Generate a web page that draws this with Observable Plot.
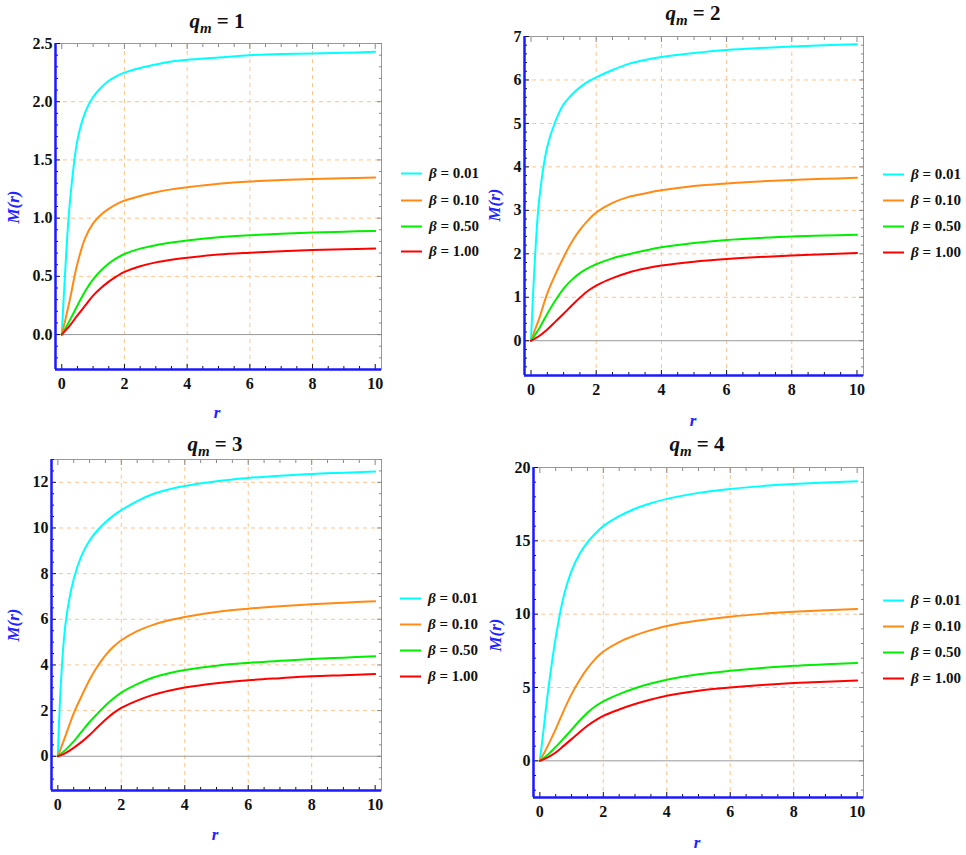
<!DOCTYPE html>
<html><head><meta charset="utf-8">
<script src="https://cdn.jsdelivr.net/npm/d3@7"></script>
<script src="https://cdn.jsdelivr.net/npm/@observablehq/plot@0.6"></script>
<style>
body{margin:0;background:#fff;}
#wrap{position:relative;width:966px;height:855px;font-family:"Liberation Serif","DejaVu Serif",serif;overflow:hidden;}
.panel{position:absolute;}
.title{position:absolute;font-weight:bold;font-size:21px;transform:translate(-50%,-50%);white-space:nowrap;color:#111;}
.title sub{font-size:15px;vertical-align:-5px;}
.ylab{position:absolute;color:#2323ff;font-weight:bold;font-style:italic;font-size:17px;transform:translate(-50%,-50%) rotate(-90deg);white-space:nowrap;}
.xlab{position:absolute;color:#2323ff;font-weight:bold;font-style:italic;font-size:17px;transform:translate(-50%,-50%);}
.legend{position:absolute;font-weight:bold;font-size:15px;color:#111;}
.legend .row{position:absolute;left:0;display:flex;align-items:center;white-space:nowrap;transform:translateY(-50%);}
.legend .sw{display:inline-block;width:21px;height:2px;margin-right:7px;}
</style>
</head><body>
<div id="wrap"></div>
<script>
// ---- data ----
const r = [0, 0.1, 0.25, 0.5, 0.75, 1, 1.25, 1.5, 1.75, 2, 2.5, 3, 3.5, 4, 5, 6, 7, 8, 9, 10];
const betaLabels = ["β = 0.01", "β = 0.10", "β = 0.50", "β = 1.00"];
const seriesColors = ["#00ffff", "#ff8a14", "#00ee00", "#ff0000"];

// q_m = 1
const q1_b001 = [0, 0.50, 1.11, 1.67, 1.91, 2.04, 2.12, 2.18, 2.22, 2.25, 2.29, 2.32, 2.345, 2.36, 2.38, 2.40, 2.41, 2.415, 2.42, 2.43];
const q1_b010 = [0, 0.11, 0.29, 0.61, 0.83, 0.955, 1.03, 1.08, 1.12, 1.15, 1.19, 1.222, 1.247, 1.265, 1.295, 1.315, 1.327, 1.336, 1.343, 1.35];
const q1_b050 = [0, 0.045, 0.12, 0.25, 0.375, 0.475, 0.55, 0.61, 0.656, 0.692, 0.738, 0.768, 0.79, 0.808, 0.835, 0.853, 0.866, 0.876, 0.884, 0.89];
const q1_b100 = [0, 0.03, 0.075, 0.165, 0.25, 0.335, 0.40, 0.455, 0.50, 0.538, 0.587, 0.62, 0.643, 0.66, 0.687, 0.703, 0.716, 0.726, 0.733, 0.74];
// q_m = 2
const q2_b001 = [0, 1.6, 3.24, 4.47, 5.05, 5.44, 5.66, 5.83, 5.96, 6.06, 6.23, 6.37, 6.46, 6.53, 6.62, 6.69, 6.735, 6.77, 6.80, 6.82];
const q2_b010 = [0, 0.21, 0.51, 1.09, 1.53, 1.92, 2.27, 2.55, 2.77, 2.95, 3.17, 3.31, 3.39, 3.46, 3.56, 3.62, 3.665, 3.70, 3.725, 3.75];
const q2_b050 = [0, 0.11, 0.28, 0.62, 0.93, 1.20, 1.40, 1.555, 1.67, 1.76, 1.895, 1.99, 2.075, 2.15, 2.25, 2.32, 2.365, 2.40, 2.42, 2.44];
const q2_b100 = [0, 0.04, 0.11, 0.26, 0.44, 0.62, 0.81, 0.99, 1.15, 1.27, 1.44, 1.57, 1.66, 1.73, 1.82, 1.88, 1.925, 1.96, 1.99, 2.02];
// q_m = 3
const q3_b001 = [0, 3.3, 5.9, 7.76, 8.8, 9.45, 9.9, 10.25, 10.54, 10.78, 11.18, 11.49, 11.69, 11.84, 12.05, 12.19, 12.29, 12.37, 12.42, 12.47];
const q3_b010 = [0, 0.37, 0.93, 1.88, 2.64, 3.35, 3.94, 4.42, 4.795, 5.08, 5.48, 5.755, 5.955, 6.105, 6.32, 6.46, 6.57, 6.66, 6.73, 6.79];
const q3_b050 = [0, 0.11, 0.29, 0.65, 1.08, 1.50, 1.87, 2.22, 2.53, 2.79, 3.16, 3.45, 3.64, 3.78, 3.97, 4.09, 4.18, 4.26, 4.32, 4.38];
const q3_b100 = [0, 0.05, 0.15, 0.37, 0.63, 0.93, 1.27, 1.60, 1.89, 2.12, 2.44, 2.69, 2.87, 3.01, 3.2, 3.33, 3.42, 3.50, 3.55, 3.60];
// q_m = 4
const q4_b001 = [0, 1.8, 4.6, 8.4, 11.2, 12.95, 14.1, 14.9, 15.5, 16.0, 16.68, 17.19, 17.56, 17.86, 18.27, 18.54, 18.73, 18.87, 18.98, 19.07];
const q4_b010 = [0, 0.4, 1.02, 2.16, 3.41, 4.55, 5.5, 6.3, 6.95, 7.45, 8.1, 8.55, 8.91, 9.2, 9.57, 9.83, 10.02, 10.16, 10.27, 10.35];
const q4_b050 = [0, 0.15, 0.41, 0.95, 1.53, 2.12, 2.73, 3.28, 3.72, 4.06, 4.55, 4.95, 5.27, 5.53, 5.9, 6.14, 6.33, 6.48, 6.58, 6.67];
const q4_b100 = [0, 0.08, 0.23, 0.57, 1.02, 1.48, 1.95, 2.39, 2.76, 3.07, 3.5, 3.87, 4.18, 4.44, 4.78, 5.0, 5.17, 5.30, 5.40, 5.48];

// ticks
const xTicks = [0, 2, 4, 6, 8, 10];
const xGridTicks = [2, 4, 6, 8];
const yTicks1 = [0, 0.5, 1.0, 1.5, 2.0, 2.5];
const yTicks2 = [0, 1, 2, 3, 4, 5, 6, 7];
const yTicks3 = [0, 2, 4, 6, 8, 10, 12];
const yTicks4 = [0, 5, 10, 15, 20];
const qmValues = [1, 2, 3, 4];

// ---- layout ----
const panels = [
  {q: qmValues[0], series: [q1_b001, q1_b010, q1_b050, q1_b100], yTicks: yTicks1, yDomain: [-0.3, 2.5], minor: 0.1, fmt: d3.format(".1f"),
   box: {left: 0, top: 0, width: 400, height: 430, mL: 55, mR: 19, mT: 43, mB: 61},
   title: [217, 23], ylab: [14, 207], xlab: [217, 413], legend: [401, [173, 200, 226, 251]]},
  {q: qmValues[1], series: [q2_b001, q2_b010, q2_b050, q2_b100], yTicks: yTicks2, yDomain: [-0.8, 7], minor: 0.2, fmt: d3.format("d"),
   box: {left: 470, top: 0, width: 400, height: 430, mL: 54, mR: 7, mT: 36, mB: 55},
   title: [693, 15], ylab: [495, 205], xlab: [693, 421], legend: [883, [174, 200, 226, 252]]},
  {q: qmValues[2], series: [q3_b001, q3_b010, q3_b050, q3_b100], yTicks: yTicks3, yDomain: [-1.5, 13], minor: 0.5, fmt: d3.format("d"),
   box: {left: 0, top: 430, width: 400, height: 425, mL: 51, mR: 19, mT: 29, mB: 65},
   title: [215, 446], ylab: [14, 625], xlab: [215, 835], legend: [400, [598, 624, 650, 676]]},
  {q: qmValues[3], series: [q4_b001, q4_b010, q4_b050, q4_b100], yTicks: yTicks4, yDomain: [-2.5, 20], minor: 1, fmt: d3.format("d"),
   box: {left: 470, top: 430, width: 400, height: 425, mL: 63, mR: 7, mT: 37, mB: 58},
   title: [697, 446], ylab: [496, 635], xlab: [697, 843], legend: [883, [600, 626, 652, 678]]}
];

const wrap = document.getElementById("wrap");
const xDomain = [-0.2, 10.2];
const gridColor = "#ffc48c";
const blue = "#1a1aff";

function el(tag, cls, html, x, y) {
  const e = document.createElement(tag);
  e.className = cls;
  e.innerHTML = html;
  e.style.left = x + "px";
  e.style.top = y + "px";
  wrap.appendChild(e);
  return e;
}

for (const p of panels) {
  const rows = [];
  p.series.forEach((vals, k) => vals.forEach((m, i) => rows.push({r: r[i], m, beta: betaLabels[k]})));
  const yMinor = d3.range(Math.ceil(p.yDomain[0] / p.minor - 1e-9), Math.floor(p.yDomain[1] / p.minor + 1e-9) + 1)
    .map(k => +(k * p.minor).toFixed(4)).filter(v => !p.yTicks.some(t => Math.abs(t - v) < 1e-9));
  const xMinor = d3.range(0, 10.01, 0.5).filter(v => !xTicks.includes(v));
  const yGrid = p.yTicks.filter(t => t > 0 && t < p.yDomain[1]);
  const b = p.box;
  const chart = Plot.plot({
    width: b.width, height: b.height,
    marginLeft: b.mL, marginRight: b.mR, marginTop: b.mT, marginBottom: b.mB,
    x: {domain: xDomain},
    y: {domain: p.yDomain},
    color: {domain: betaLabels, range: seriesColors},
    style: {fontFamily: "'Liberation Serif', 'DejaVu Serif', serif", fontSize: "16px", fontWeight: "bold", color: "#111", background: "transparent", overflow: "visible"},
    marks: [
      Plot.gridX(xGridTicks, {stroke: gridColor, strokeOpacity: 1, strokeDasharray: "4 4"}),
      Plot.gridY(yGrid, {stroke: gridColor, strokeOpacity: 1, strokeDasharray: "4 4"}),
      Plot.ruleY([0], {stroke: "#999", strokeWidth: 1}),
      Plot.frame({stroke: "#999", strokeWidth: 1}),
      Plot.line(rows, {x: "r", y: "m", z: "beta", stroke: "beta", strokeWidth: 2, curve: "catmull-rom"}),
      // bottom
      Plot.axisX(xTicks, {anchor: "bottom", tickSize: -5, tickPadding: 13, tickFormat: d => String(d), label: null, stroke: "#111"}),
      Plot.axisX(xMinor, {anchor: "bottom", tickSize: -3, text: null, label: null, stroke: "#111"}),
      // top
      Plot.axisX(xTicks, {anchor: "top", tickSize: -5, text: null, label: null, stroke: "#888"}),
      Plot.axisX(xMinor, {anchor: "top", tickSize: -3, text: null, label: null, stroke: "#888"}),
      // left
      Plot.axisY(p.yTicks, {anchor: "left", tickSize: -5, tickPadding: 8, tickFormat: p.fmt, label: null, stroke: "#111"}),
      Plot.axisY(yMinor, {anchor: "left", tickSize: -3, text: null, label: null, stroke: "#111"}),
      // right
      Plot.axisY(p.yTicks, {anchor: "right", tickSize: -5, text: null, label: null, stroke: "#888"}),
      Plot.axisY(yMinor, {anchor: "right", tickSize: -3, text: null, label: null, stroke: "#888"}),
      Plot.ruleX([xDomain[0]], {stroke: blue, strokeWidth: 2.5}),
      Plot.ruleY([p.yDomain[0]], {stroke: blue, strokeWidth: 2.5})
    ]
  });
  const holder = document.createElement("div");
  holder.className = "panel";
  holder.style.left = b.left + "px";
  holder.style.top = b.top + "px";
  holder.appendChild(chart);
  wrap.appendChild(holder);

  el("div", "title", `<i>q</i><sub><i>m</i></sub> = ${p.q}`, p.title[0], p.title[1]);
  el("div", "ylab", "M(r)", p.ylab[0], p.ylab[1]);
  el("div", "xlab", "r", p.xlab[0], p.xlab[1]);
  const lg = el("div", "legend", "", p.legend[0], 0);
  betaLabels.forEach((lab, k) => {
    const row = document.createElement("div");
    row.className = "row";
    row.style.top = p.legend[1][k] + "px";
    row.innerHTML = `<span class="sw" style="background:${seriesColors[k]}"></span><span><i>β</i> = ${lab.split("= ")[1]}</span>`;
    lg.appendChild(row);
  });
}
</script>
</body></html>
